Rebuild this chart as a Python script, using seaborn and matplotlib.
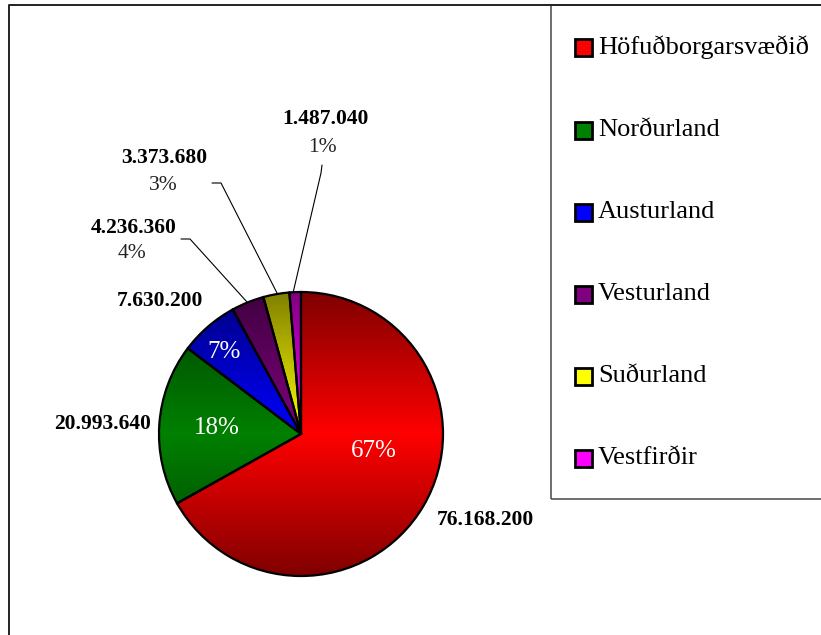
import numpy as np
import matplotlib
matplotlib.use("Agg")
import matplotlib.pyplot as plt
from matplotlib.patches import Rectangle
import seaborn as sns

# data
regions = ["Höfuðborgarsvæðið", "Norðurland", "Austurland", "Vesturland", "Suðurland", "Vestfirðir"]
amounts = [76168200, 20993640, 7630200, 4236360, 3373680, 1487040]
base_colors = ["#ff0000", "#008000", "#0000ff", "#800080", "#ffff00", "#ff00ff"]

sns.set_theme(style="white")
plt.rcParams["font.family"] = ["Liberation Serif", "DejaVu Serif"]
plt.rcParams["text.color"] = "black"

W, H = 821, 635
fig = plt.figure(figsize=(W / 100, H / 100), dpi=100)
ax = fig.add_axes([0, 0, 1, 1])


def Y(y):
    # picture row -> data y
    return H - y


cx, cy, r = 301, Y(434), 142

wedges, _ = ax.pie(amounts, colors=base_colors, startangle=90, counterclock=False,
                   center=(cx, cy), radius=r,
                   wedgeprops=dict(edgecolor="black", linewidth=1.6))

# vertical gradient: dark at top/bottom, full colour at the centre line
t = np.linspace(-1, 1, 300)
shade = 1 - 0.5 * np.abs(t)
for w, c in zip(wedges, base_colors):
    rgb = np.array(matplotlib.colors.to_rgb(c))
    img = shade[:, None, None] * rgb[None, None, :] * np.ones((1, 2, 1))
    im = ax.imshow(img, extent=(cx - r, cx + r, cy - r, cy + r), origin="lower",
                   zorder=1, interpolation="bilinear")
    im.set_clip_path(w)
    w.set_facecolor("none")
    w.set_zorder(2)

total = sum(amounts)
pcts = [f"{round(v / total * 100)}%" for v in amounts]
vals = [f"{v:,}".replace(",", ".") for v in amounts]

# percent labels inside the big slices
inside_pos = [(374, 451), (217, 428), (224, 352)]
for i, (x, y) in enumerate(inside_pos):
    ax.text(x, Y(y), pcts[i], color="white", fontsize=18, ha="center", va="center", zorder=5)

# value labels
val_pos = [(485, 520), (103, 424), (160, 301), (134, 228), (164, 158), (325, 119)]
for i, (x, y) in enumerate(val_pos):
    ax.text(x, Y(y), vals[i], color="black", fontsize=15.5, fontweight="bold",
            ha="center", va="center", zorder=5)

# outside percent labels for the small slices
pct_pos = {3: (132, 253), 4: (163, 185), 5: (322, 147)}
for i, (x, y) in pct_pos.items():
    ax.text(x, Y(y), pcts[i], color="#222222", fontsize=15.5, ha="center", va="center", zorder=5)

# leader lines
leaders = [
    [(181, 239), (190, 239), (247, 302)],
    [(212, 183), (221, 183), (277, 293)],
    [(322, 165), (321, 173), (293, 293)],
]
for pts in leaders:
    xs, ys = zip(*pts)
    ax.plot(xs, [Y(v) for v in ys], color="black", lw=0.8, zorder=3)

# legend box
ax.add_patch(Rectangle((551, Y(499)), 300, 494, fill=False, edgecolor="#555555", lw=1.2, zorder=4))
row_y = [47, 130, 212, 294, 376, 458]
for name, c, y in zip(regions, base_colors, row_y):
    ax.add_patch(Rectangle((575, Y(y) - 8.5), 17, 17, facecolor=c, edgecolor="black", lw=2.0, zorder=5))
    ax.text(598, Y(y), name, color="black", fontsize=19, ha="left", va="center", zorder=5)

# outer frame
ax.plot([8.5, 8.5, W + 5], [-5, Y(5), Y(5)], color="#222222", lw=1.4, zorder=6)

ax.set_xlim(0, W)
ax.set_ylim(0, H)
ax.set_aspect("equal")
ax.axis("off")

fig.savefig("out.png", dpi=100)
